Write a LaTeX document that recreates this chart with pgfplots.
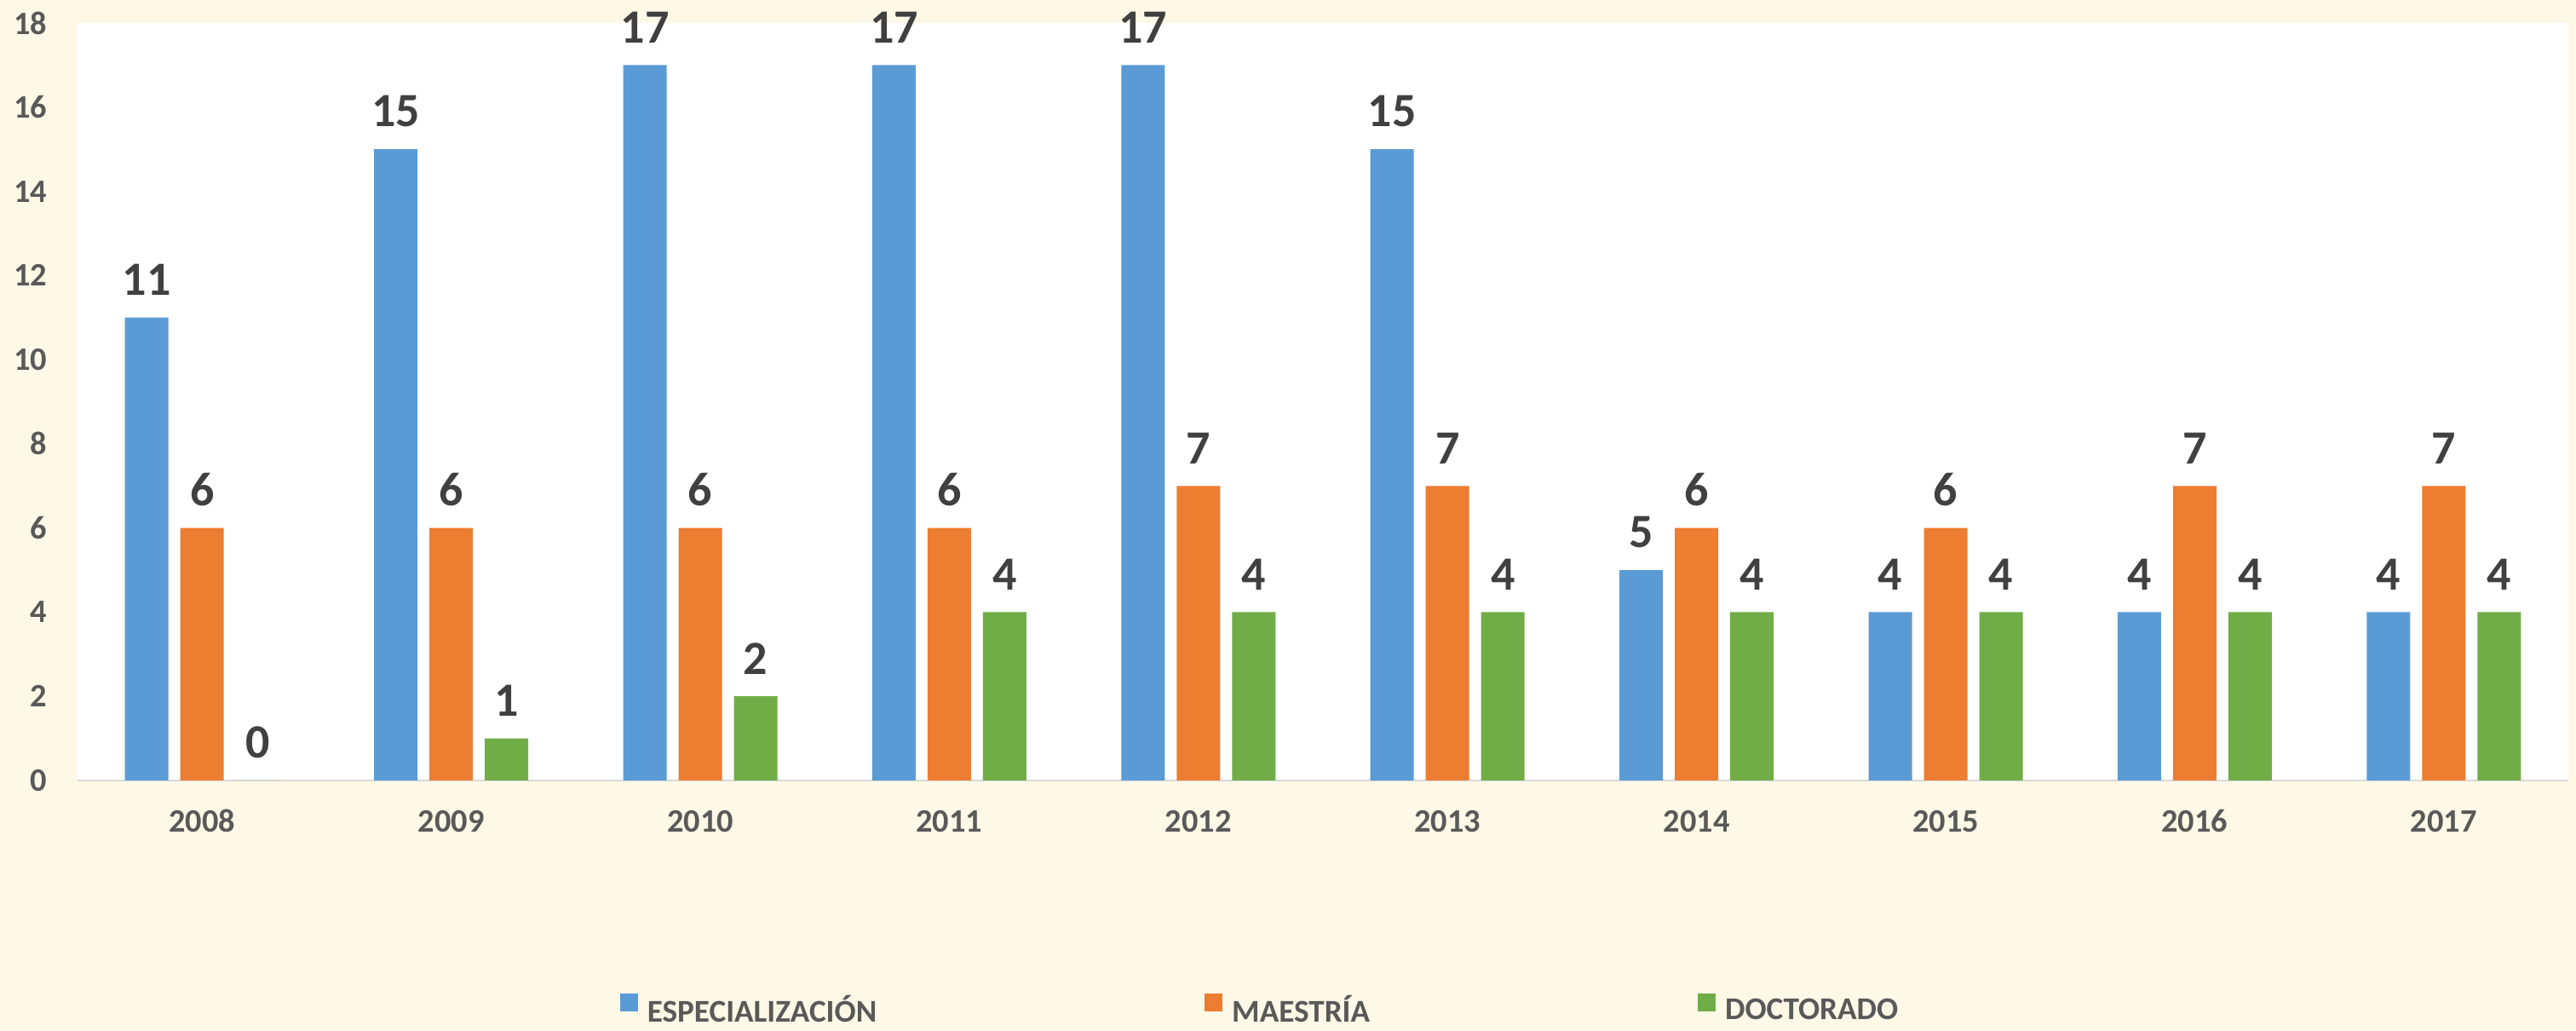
\documentclass[border=0pt]{standalone}
\usepackage{fontspec}
\setmainfont{Carlito}
\usepackage{pgfplots}
\pgfplotsset{compat=1.18}
\usetikzlibrary{calc}

\definecolor{cream}{HTML}{FEF8E6}
\definecolor{espblue}{HTML}{5B9BD5}
\definecolor{maeorange}{HTML}{ED7D31}
\definecolor{docgreen}{HTML}{70AD47}
\definecolor{ticktext}{HTML}{595959}
\definecolor{labeltext}{HTML}{404040}
\definecolor{baseline}{HTML}{D9D9D9}

\pgfplotstableread{
x esp mae doc
0 11 6 0
1 15 6 1
2 17 6 2
3 17 6 4
4 17 7 4
5 15 7 4
6 5  6 4
7 4  6 4
8 4  7 4
9 4  7 4
}\datos

\begin{document}
\begin{tikzpicture}
\fill[cream] (0,0) rectangle (756pt,302.5pt);
\begin{axis}[
  at={(22.75pt,73.5pt)}, anchor=south west,
  scale only axis,
  width=731pt, height=222.25pt,
  axis background/.style={fill=white},
  ybar=3.5pt,
  bar width=12.75pt,
  xmin=-0.5, xmax=9.5,
  ymin=0, ymax=18,
  enlargelimits=false,
  xtick=data,
  xticklabels={2008,2009,2010,2011,2012,2013,2014,2015,2016,2017},
  ytick={0,2,...,18},
  major tick length=0pt,
  axis x line*=bottom,
  axis y line*=left,
  x axis line style={draw=baseline, line width=0.6pt},
  y axis line style={draw=none},
  /pgf/number format/assume math mode=true,
  ticklabel style={font=\fontsize{9.6}{11}\selectfont\bfseries, text=ticktext, inner sep=0pt},
  yticklabel style={anchor=east, xshift=-8.75pt},
  xticklabel style={anchor=base, yshift=-15.25pt},
  nodes near coords,
  every node near coord/.append style={
    font=\fontsize{14}{16}\selectfont\bfseries, text=labeltext,
    anchor=south, inner sep=0pt, yshift=6.25pt,
    /pgf/number format/assume math mode=true},
  legend columns=-1,
  legend style={
    at={(0.2175,-0.3035)}, anchor=west,
    draw=none, fill=none, inner sep=0pt,
    font=\fontsize{9.3}{11}\selectfont\bfseries, text=ticktext,
    nodes={inner sep=0pt},
    /tikz/every odd column/.append style={column sep=2.75pt},
    /tikz/every even column/.append style={column sep=96.25pt}},
]
\addplot[fill=espblue, draw=none, legend image code/.code={\fill[espblue] (0,0) rectangle (5.25pt,5.25pt);}]
  table[x=x, y=esp] {\datos};
\addplot[fill=maeorange, draw=none, legend image code/.code={\fill[maeorange] (0,0) rectangle (5.25pt,5.25pt);}]
  table[x=x, y=mae] {\datos};
\addplot[fill=docgreen, draw=none, legend image code/.code={\fill[docgreen] (0,0) rectangle (5.25pt,5.25pt);}]
  table[x=x, y=doc] {\datos};
\legend{ESPECIALIZACIÓN, MAESTRÍA, DOCTORADO}
\end{axis}
\pgfresetboundingbox
\useasboundingbox (0,0) rectangle (756pt,302.5pt);
\end{tikzpicture}
\end{document}
